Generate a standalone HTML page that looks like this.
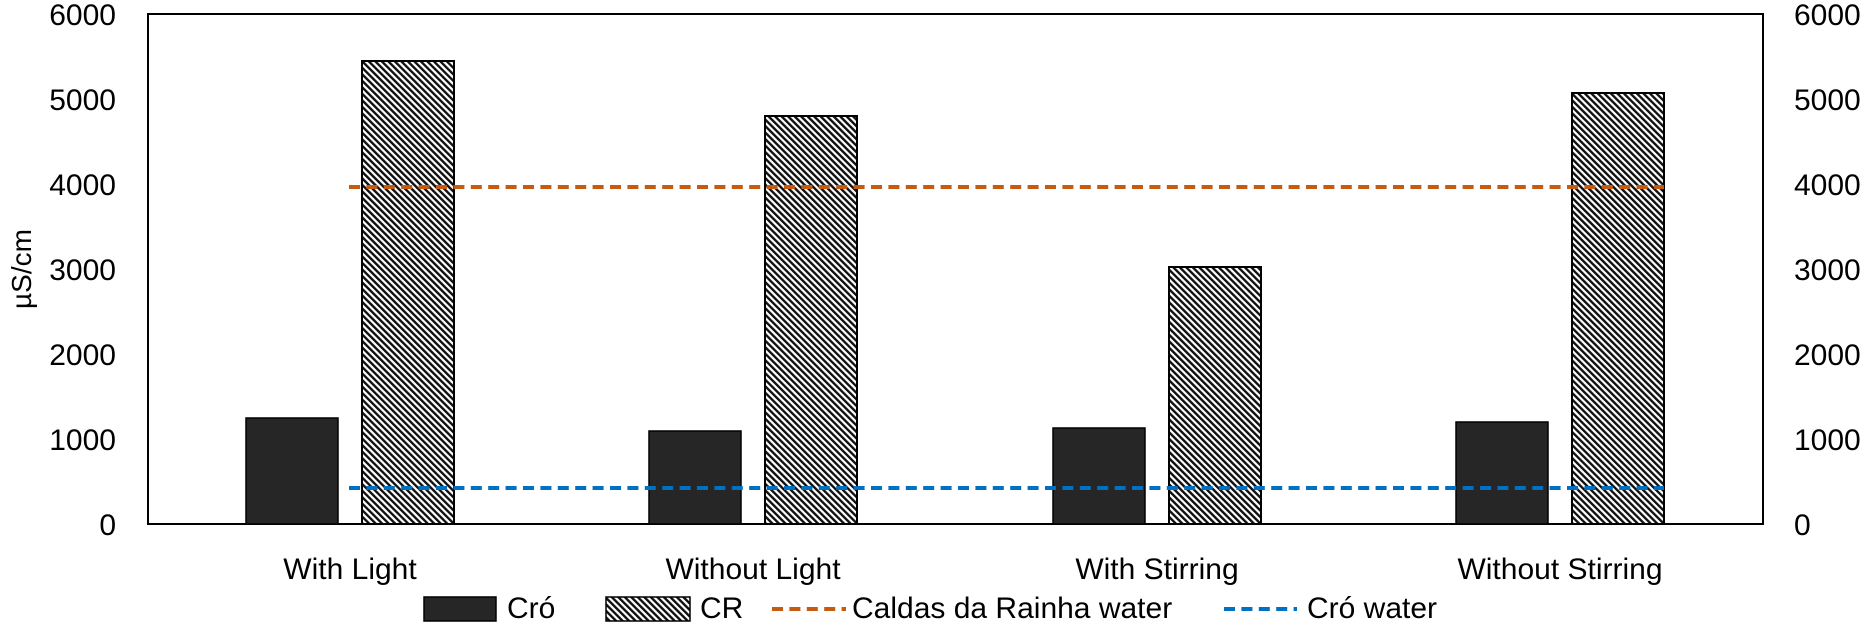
<!DOCTYPE html>
<html><head><meta charset="utf-8"><style>
body{margin:0;background:#fff;}
svg{display:block;}
svg text{font-family:"Liberation Sans",sans-serif;fill:#000;}
</style></head><body>
<svg width="1867" height="622" viewBox="0 0 1867 622" xmlns="http://www.w3.org/2000/svg">
<defs>
<pattern id="h" patternUnits="userSpaceOnUse" width="4.6" height="4.6" patternTransform="rotate(-45)">
<rect width="4.6" height="4.6" fill="#fff"/><rect width="2.4" height="4.6" fill="#111"/>
</pattern>
</defs>
<rect x="148" y="14" width="1615" height="510" fill="none" stroke="#000" stroke-width="2"/>
<g font-size="30" text-anchor="end">
<text x="116" y="535">0</text><text x="116" y="450">1000</text><text x="116" y="365">2000</text>
<text x="116" y="280">3000</text><text x="116" y="195">4000</text><text x="116" y="110">5000</text><text x="116" y="25">6000</text>
</g>
<g font-size="30" text-anchor="start">
<text x="1794" y="535">0</text><text x="1794" y="450">1000</text><text x="1794" y="365">2000</text>
<text x="1794" y="280">3000</text><text x="1794" y="195">4000</text><text x="1794" y="110">5000</text><text x="1794" y="25">6000</text>
</g>
<text font-size="28" transform="translate(31,269) rotate(-90)" text-anchor="middle">µS/cm</text>
<g fill="#262626" stroke="#000" stroke-width="1.5">
<rect x="246" y="418" width="92" height="106"/>
<rect x="649" y="431" width="92" height="93"/>
<rect x="1053" y="428" width="92" height="96"/>
<rect x="1456" y="422" width="92" height="102"/>
</g>
<g fill="url(#h)" stroke="#000" stroke-width="2">
<rect x="362" y="61" width="92" height="463"/>
<rect x="765" y="116" width="92" height="408"/>
<rect x="1169" y="267" width="92" height="257"/>
<rect x="1572" y="93" width="92" height="431"/>
</g>
<line x1="349" y1="187" x2="1664" y2="187" stroke="#C55A11" stroke-width="4" stroke-dasharray="11,6.4"/>
<line x1="349" y1="488" x2="1664" y2="488" stroke="#0070C0" stroke-width="4" stroke-dasharray="11,6.4"/>
<g font-size="30" text-anchor="middle">
<text x="350" y="579">With Light</text>
<text x="753" y="579">Without Light</text>
<text x="1157" y="579">With Stirring</text>
<text x="1560" y="579">Without Stirring</text>
</g>
<rect x="424" y="597" width="72" height="24" fill="#262626" stroke="#000" stroke-width="1.5"/>
<text x="507" y="618" font-size="30">Cró</text>
<rect x="606" y="597" width="84" height="24" fill="url(#h)" stroke="#000" stroke-width="1.5"/>
<text x="700" y="618" font-size="30">CR</text>
<line x1="772" y1="609" x2="846" y2="609" stroke="#C55A11" stroke-width="4" stroke-dasharray="11,6.4"/>
<text x="852" y="618" font-size="30">Caldas da Rainha water</text>
<line x1="1224" y1="609" x2="1297" y2="609" stroke="#0070C0" stroke-width="4" stroke-dasharray="11,6.4"/>
<text x="1307" y="618" font-size="30">Cró water</text>
</svg>
</body></html>
